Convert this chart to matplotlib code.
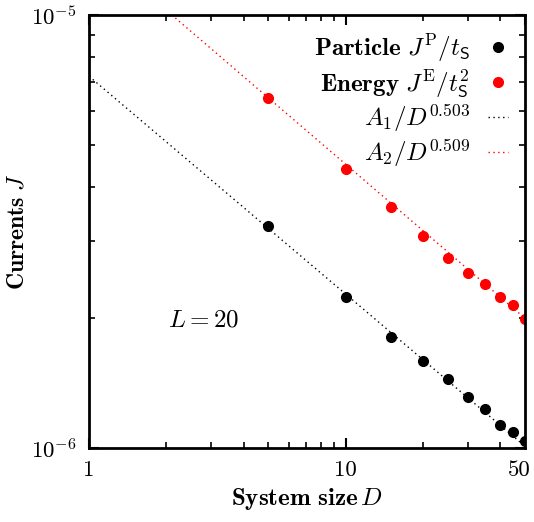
import numpy as np
import matplotlib
matplotlib.use("Agg")
import matplotlib.pyplot as plt
from matplotlib.transforms import ScaledTranslation

plt.rcParams['font.family'] = 'serif'
plt.rcParams['font.serif'] = ['cmr10']
plt.rcParams['mathtext.fontset'] = 'cm'
plt.rcParams['axes.formatter.use_mathtext'] = True
plt.rcParams['axes.unicode_minus'] = False

# data
D = [5, 10, 15, 20, 25, 30, 35, 40, 45, 50]
J_particle = [3.26e-6, 2.23e-6, 1.807e-6, 1.588e-6, 1.441e-6, 1.314e-6, 1.228e-6, 1.130e-6, 1.087e-6, 1.04e-6]
J_energy = [6.43e-6, 4.41e-6, 3.61e-6, 3.08e-6, 2.74e-6, 2.54e-6, 2.39e-6, 2.23e-6, 2.14e-6, 1.99e-6]

# fit parameters
A1, p1 = 7.22e-6, 0.503
A2, p2 = 14.6e-6, 0.509

fig = plt.figure(figsize=(5.34, 5.22), dpi=100)
ax = fig.add_axes([89/534, 1 - 448/522, 436/534, 433/522])

d_fit = np.logspace(0, np.log10(50), 200)
ax.plot(D, J_particle, 'o', color='black', ms=7, label=r'$\mathbf{Particle}\ J^{\mathrm{P}}/t_{\mathsf{S}}$')
ax.plot(D, J_energy, 'o', color='red', ms=7, label=r'$\mathbf{Energy}\ J^{\mathrm{E}}/t_{\mathsf{S}}^{2}$')
ax.plot(d_fit, A1 / d_fit**p1, ls=(0, (1, 2.5)), color='black', lw=1, label=r'$A_1/D^{0.503}$')
ax.plot(d_fit, A2 / d_fit**p2, ls=(0, (1, 2.5)), color='red', lw=1, label=r'$A_2/D^{0.509}$')

ax.set_xscale('log')
ax.set_yscale('log')
ax.set_xlim(1, 50)
ax.set_ylim(1e-6, 1e-5)
ax.set_xticks([1, 10, 50])
ax.set_xticklabels(['1', '10', '50'])
ax.set_yticks([1e-6, 1e-5])
ax.set_yticklabels([r'$10^{-6}$', r'$10^{-5}$'])
ax.yaxis.set_minor_formatter(matplotlib.ticker.NullFormatter())
ax.xaxis.set_minor_formatter(matplotlib.ticker.NullFormatter())

ax.tick_params(which='both', direction='in', top=True, right=True, labelsize=16.5)
ax.tick_params(which='major', length=7, width=1.5, pad=9)
ax.tick_params(which='minor', length=4, width=1.2)
for s in ax.spines.values():
    s.set_linewidth(2)

# keep the "50" label inside the canvas
lab50 = ax.get_xticklabels()[-1]
lab50.set_transform(lab50.get_transform() + ScaledTranslation(-6/100, 0, fig.dpi_scale_trans))

ax.set_xlabel(r'$\mathbf{System\ size}\,D$', fontsize=18, labelpad=4)
ax.set_ylabel(r'$\mathbf{Currents}\ J$', fontsize=17, labelpad=2)

ax.text(2.03, 1.97e-6, r'$L = 20$', fontsize=18, va='center', ha='left')

ax.legend(loc='upper right', frameon=False, markerfirst=False, fontsize=18,
          handlelength=0.8, handletextpad=0.7, borderaxespad=0.3, labelspacing=0.12)

fig.savefig('out.png', dpi=100)
